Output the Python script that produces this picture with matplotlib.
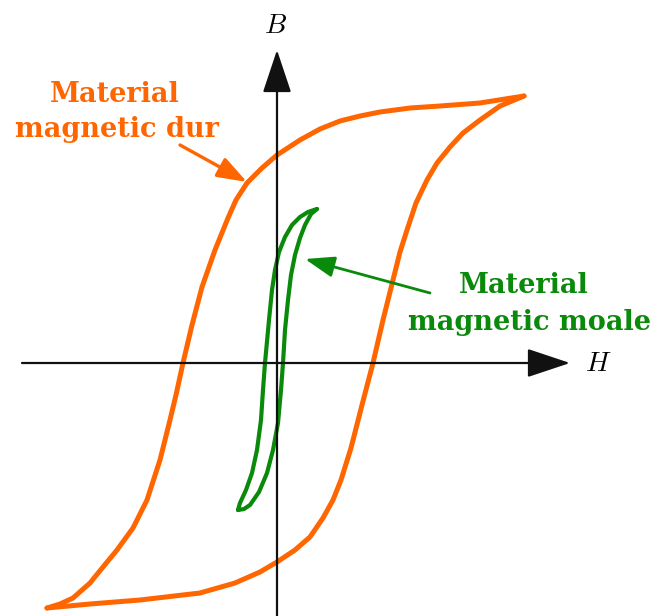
import matplotlib
matplotlib.use("Agg")
import matplotlib.pyplot as plt

plt.rcParams["mathtext.fontset"] = "cm"

# origin of the H-B axes in the picture is (277, 363); values below are H, B
# (pixel offsets from that origin, B upwards)

# hard magnetic material: descending (upper) branch, from +tip to -tip
dur_sus_H = [247, 228, 203, 163, 133, 103, 83, 63, 43, 23, 0, -15, -30, -41, -49, -62, -75, -85,
             -94, -101, -107, -117, -130, -144, -160, -174, -187, -204, -217, -230]
dur_sus_B = [267, 264, 260, 257, 255, 251, 247, 242, 234, 223, 208, 195, 180, 163, 145, 113, 76, 38,
             0, -32, -57, -97, -137, -165, -187, -204, -220, -235, -241, -245]
# ascending (lower) branch, from -tip to +tip
dur_jos_H = [-230, -187, -137, -77, -42, -17, 0, 18, 33, 46, 56, 64, 74, 85, 96, 106, 116, 123,
             130, 139, 150, 160, 173, 186, 203, 223, 247]
dur_jos_B = [-245, -241, -237, -230, -220, -209, -199, -187, -174, -155, -137, -117, -85, -42, 0, 43, 83, 111,
             133, 160, 183, 200, 216, 230, 243, 257, 267]

# soft magnetic material loop
moale_sus_H = [40, 31, 23, 15, 8, 2, -2, -5, -8, -12, -14, -16, -20, -25, -31, -37, -39]
moale_sus_B = [154, 151, 146, 138, 126, 111, 93, 73, 43, 0, -27, -57, -87, -110, -127, -140, -147]
moale_jos_H = [-39, -33, -27, -18, -10, -4, 1, 4, 6, 8, 11, 14, 18, 23, 28, 34, 40]
moale_jos_B = [-147, -146, -142, -129, -110, -87, -60, -27, 0, 33, 63, 88, 108, 125, 138, 149, 154]

orange = "#ff6600"
green = "#0a8a0a"

fig = plt.figure(figsize=(6.57, 6.16), dpi=100)
ax = fig.add_axes([0, 0, 1, 1])
ax.set_xlim(-277, 380)
ax.set_ylim(-253, 363)
ax.axis("off")

# axes with arrow heads
ax.annotate("", xy=(293, 0), xytext=(-255, 0),
            arrowprops=dict(arrowstyle="-|>,head_length=0.9,head_width=0.3",
                            lw=1.6, color="#111111", mutation_scale=30,
                            shrinkA=0, shrinkB=0))
ax.annotate("", xy=(0, 313), xytext=(0, -253),
            arrowprops=dict(arrowstyle="-|>,head_length=0.9,head_width=0.3",
                            lw=1.6, color="#111111", mutation_scale=30,
                            shrinkA=0, shrinkB=0))
ax.text(-2, 338, "$B$", fontsize=20, ha="center", va="center")
ax.text(321, 0, "$H$", fontsize=20, ha="center", va="center")

# loops
kw = dict(solid_joinstyle="round", solid_capstyle="round")
ax.plot(dur_sus_H, dur_sus_B, color=orange, lw=3.6, **kw)
ax.plot(dur_jos_H, dur_jos_B, color=orange, lw=3.6, **kw)
ax.plot(moale_sus_H, moale_sus_B, color=green, lw=3.0, **kw)
ax.plot(moale_jos_H, moale_jos_B, color=green, lw=3.0, **kw)

# labels with pointers
tkw = dict(fontsize=19.5, fontweight="bold", family="DejaVu Serif", ha="center", va="baseline")
ax.text(-162, 261, "Material", color=orange, **tkw)
ax.text(-160, 226, "magnetic dur", color=orange, **tkw)
ax.annotate("", xy=(-30, 181), xytext=(-97, 218),
            arrowprops=dict(arrowstyle="-|>,head_length=0.9,head_width=0.32",
                            lw=2.4, color=orange, mutation_scale=20,
                            shrinkA=0, shrinkB=0))

ax.text(247, 70, "Material", color=green, **tkw)
ax.text(252, 33, "magnetic moale", color=green, **tkw)
ax.annotate("", xy=(28, 104), xytext=(153, 70),
            arrowprops=dict(arrowstyle="-|>,head_length=0.9,head_width=0.32",
                            lw=2.0, color=green, mutation_scale=20,
                            shrinkA=0, shrinkB=0))

fig.savefig("out.png", dpi=100)
